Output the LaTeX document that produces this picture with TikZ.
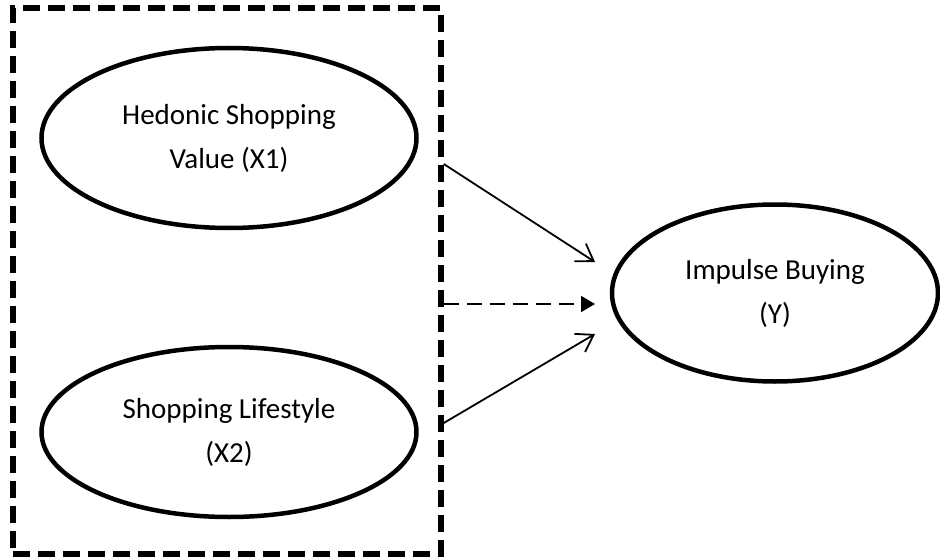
\documentclass[tikz,border=0pt]{standalone}
\usepackage{fontspec}
\setmainfont{Carlito}
\usetikzlibrary{shapes.geometric,arrows.meta}
\begin{document}
\begin{tikzpicture}[x=1pt,y=-1pt,
  latent/.style={draw, ellipse, line width=4.5pt, inner sep=0pt, align=center,
    font=\fontsize{29}{44}\selectfont},
  groupbox/.style={draw, rectangle, line width=5.5pt, dash pattern=on 17pt off 8pt,
    inner sep=0pt},
  path1/.style={line width=1.8pt, -{Straight Barb[length=16pt,width=21pt,line width=1.8pt]}},
  path2/.style={line width=1.8pt, dash pattern=on 15pt off 8pt, -{Triangle[length=14pt,width=16pt]}}]
\useasboundingbox (0,0) rectangle (940,559);
\node[groupbox, minimum width=428pt, minimum height=546pt] (box) at (227,281) {};
\node[latent, minimum width=375pt, minimum height=180pt] (x1) at (229,138) {Hedonic Shopping\\Value (X1)};
\node[latent, minimum width=375pt, minimum height=170pt] (x2) at (229,432) {Shopping Lifestyle\\(X2)};
\node[latent, minimum width=326pt, minimum height=177pt] (y) at (775,293) {Impulse Buying\\(Y)};
\coordinate (s1) at (box.east |- 0,164);
\coordinate (s2) at (box.east |- 0,304);
\coordinate (s3) at (box.east |- 0,423);
\coordinate (t1) at (595,262);
\coordinate (t2) at (595,304);
\coordinate (t3) at (595,334);
\draw[path1] (s1) -- (t1);
\draw[path2] (s2) -- (t2);
\draw[path1] (s3) -- (t3);
\end{tikzpicture}
\end{document}
